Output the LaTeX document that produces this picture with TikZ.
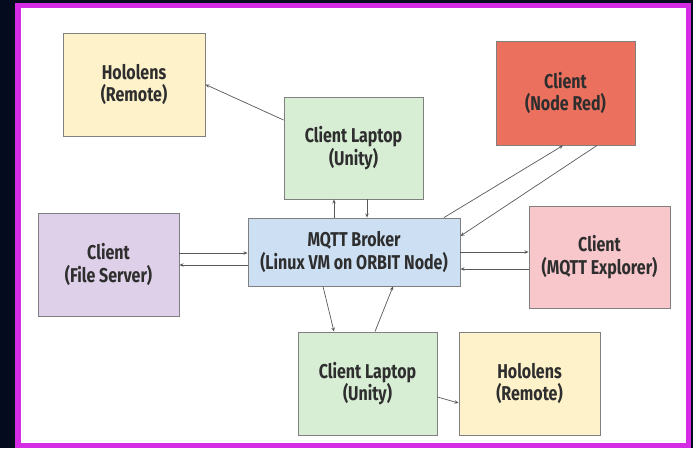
\documentclass[tikz,border=0pt]{standalone}
\usepackage{fontspec}
\newfontfamily\lblfont[FakeStretch=0.8]{Fira Sans}
\usetikzlibrary{arrows.meta}
\definecolor{navy}{HTML}{040B1F}
\definecolor{frame}{HTML}{D42CE4}
\definecolor{edge}{HTML}{808080}
\definecolor{txt}{HTML}{2E2E2E}
\definecolor{cyel}{HTML}{FEF2CB}
\definecolor{cgrn}{HTML}{D7EDD4}
\definecolor{cred}{HTML}{EB715E}
\definecolor{cblu}{HTML}{CDE0F3}
\definecolor{cpnk}{HTML}{F8C7CC}
\definecolor{cpur}{HTML}{DDD0E8}
\begin{document}
\begin{tikzpicture}[x=1pt,y=-1pt,
  box/.style={draw=edge, line width=0.9pt, rectangle, inner sep=0pt, align=center,
    font=\lblfont\bfseries\fontsize{20}{22.5}\selectfont, text=txt},
  link/.style={draw=black!65, line width=0.7pt, -{Stealth[length=4pt,width=3.5pt]}}]
\fill[navy] (0,0) rectangle (693,448);
\useasboundingbox (0,0) rectangle (693,448);
\fill[frame] (15,3) rectangle (691,448);
\fill[white] (21,8) rectangle (686,443);

\node[box, fill=cyel, minimum width=142pt, minimum height=103pt] (h1) at (134,84.5) {Hololens\\(Remote)};
\node[box, fill=cgrn, minimum width=139pt, minimum height=102pt] (lt) at (353.5,148) {Client Laptop\\(Unity)};
\node[box, fill=cred, minimum width=139pt, minimum height=104pt] (nr) at (565.5,93) {Client\\(Node Red)};
\node[box, fill=cpur, minimum width=141pt, minimum height=103pt] (fs) at (108.5,264.5) {Client\\(File Server)};
\node[box, fill=cblu, minimum width=212pt, minimum height=68pt] (brk) at (354,252) {MQTT Broker\\(Linux VM on ORBIT Node)};
\node[box, fill=cpnk, minimum width=141pt, minimum height=102pt] (ex) at (599.5,257) {Client\\(MQTT Explorer)};
\node[box, fill=cgrn, minimum width=139pt, minimum height=103pt] (lb) at (367.5,383.5) {Client Laptop\\(Unity)};
\node[box, fill=cyel, minimum width=141pt, minimum height=103pt] (h2) at (529.5,383.5) {Hololens\\(Remote)};

% laptop top -> hololens
\draw[link] ([yshift=28pt]lt.west) -- (h1.east);
% broker <-> laptop top
\draw[link] ([xshift=-20pt]brk.north) -- ([xshift=-20pt]brk.north |- lt.south);
\draw[link] ([xshift=13pt]brk.north |- lt.south) -- ([xshift=13pt]brk.north);
% broker <-> node red
\draw[link] ([xshift=90pt]brk.north) -- ([xshift=-2.5pt]nr.south);
\draw[link] ([xshift=31.5pt]nr.south) -- ([yshift=16pt]brk.east);
% file server <-> broker
\draw[link] ([yshift=11.5pt]fs.east) -- ([yshift=11.5pt]fs.east -| brk.west);
\draw[link] ([yshift=-0.5pt]fs.east -| brk.west) -- ([yshift=-0.5pt]fs.east);
% broker <-> explorer
\draw[link] (brk.east) -- (brk.east -| ex.west);
\draw[link] ([yshift=-17pt]brk.east -| ex.west) -- ([yshift=-17pt]brk.east);
% broker <-> laptop bottom
\draw[link] ([xshift=-31pt]brk.south) -- ([xshift=-33.5pt]lb.north);
\draw[link] ([xshift=7.5pt]lb.north) -- ([xshift=39pt]brk.south);
% laptop bottom -> hololens
\draw[link] ([yshift=-13.5pt]lb.east) -- ([yshift=-19.5pt]h2.west);
\end{tikzpicture}
\end{document}
